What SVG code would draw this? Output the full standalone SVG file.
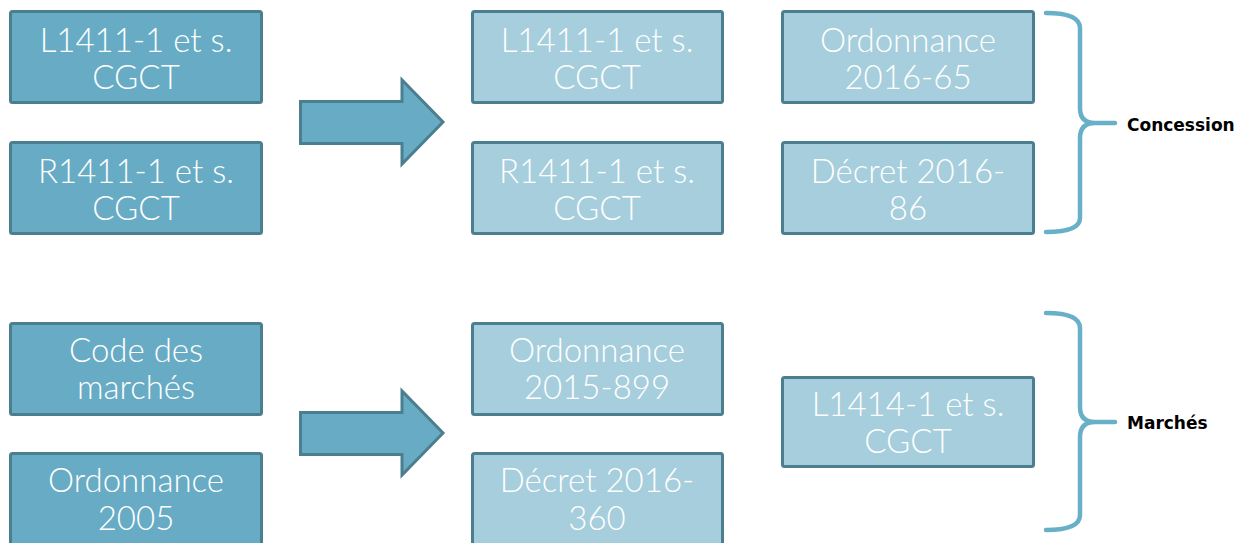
<svg xmlns="http://www.w3.org/2000/svg" width="1247" height="543" viewBox="0 0 1247 543">
<style>
.bd{fill:#67acc4;stroke:#4b7e8e;stroke-width:3}
.bl{fill:#a6cedc;stroke:#4b7e8e;stroke-width:3}
.t{font-family:"Lato","Liberation Sans",sans-serif;font-weight:300;font-size:33px;fill:#ffffff;text-anchor:middle}
.br{fill:none;stroke:#68b0c8;stroke-width:4.5;stroke-linecap:round;stroke-linejoin:round}
.lb{font-family:"DejaVu Sans","Liberation Sans",sans-serif;font-weight:bold;font-size:17px;fill:#000}
.ar{fill:#67acc4;stroke:#4b7e8e;stroke-width:3;stroke-linejoin:miter}
</style>
<rect width="1247" height="543" fill="#fff"/>
<g id="n1"><rect class="bd" x="10.5" y="11.5" width="251" height="91" rx="2"/><text class="t" x="136" y="52">L1411-1 et s.</text><text class="t" x="136" y="89">CGCT</text></g>
<g id="n2"><rect class="bd" x="10.5" y="142.5" width="251" height="91" rx="2"/><text class="t" x="136" y="183">R1411-1 et s.</text><text class="t" x="136" y="220">CGCT</text></g>
<g id="n3"><rect class="bd" x="10.5" y="323.5" width="251" height="91" rx="2"/><text class="t" x="136" y="362">Code des</text><text class="t" x="136" y="399">marchés</text></g>
<g id="n4"><rect class="bd" x="10.5" y="453.5" width="251" height="95" rx="2"/><text class="t" x="136" y="492">Ordonnance</text><text class="t" x="136" y="530">2005</text></g>
<g id="n5"><rect class="bl" x="472.5" y="11.5" width="250" height="91" rx="2"/><text class="t" x="597" y="52">L1411-1 et s.</text><text class="t" x="597" y="89">CGCT</text></g>
<g id="n6"><rect class="bl" x="472.5" y="142.5" width="250" height="91" rx="2"/><text class="t" x="597" y="183">R1411-1 et s.</text><text class="t" x="597" y="220">CGCT</text></g>
<g id="n7"><rect class="bl" x="472.5" y="323.5" width="250" height="91" rx="2"/><text class="t" x="597" y="362">Ordonnance</text><text class="t" x="597" y="399">2015-899</text></g>
<g id="n8"><rect class="bl" x="472.5" y="453.5" width="250" height="95" rx="2"/><text class="t" x="597" y="492">Décret 2016-</text><text class="t" x="597" y="530">360</text></g>
<g id="n9"><rect class="bl" x="782.5" y="11.5" width="251" height="91" rx="2"/><text class="t" x="908" y="52">Ordonnance</text><text class="t" x="908" y="89">2016-65</text></g>
<g id="n10"><rect class="bl" x="782.5" y="142.5" width="251" height="91" rx="2"/><text class="t" x="908" y="183">Décret 2016-</text><text class="t" x="908" y="220">86</text></g>
<g id="n11"><rect class="bl" x="782.5" y="377.5" width="251" height="89" rx="2"/><text class="t" x="908" y="416">L1414-1 et s.</text><text class="t" x="908" y="453">CGCT</text></g>
<g id="connectors">
<path class="ar" d="M300.5,101.5 H402 V80 L443,122 L402,164 V143.5 H300.5 Z"/>
<path class="ar" d="M300.5,412.5 H402 V391 L443,433 L402,475 V454.5 H300.5 Z"/>
<path class="br" d="M1046,13 Q1080,13 1080,28 V108 Q1080,123 1095,123 H1115 M1095,123 Q1080,123 1080,138 V218 Q1080,232 1046,232"/>
<path class="br" d="M1046,313 Q1080,313 1080,328 V407 Q1080,422 1095,422 H1115 M1095,422 Q1080,422 1080,437 V515 Q1080,530 1046,530"/>
</g>
<g id="labels">
<text class="lb" x="1127" y="131">Concession</text>
<text class="lb" x="1127" y="429">Marchés</text>
</g>
</svg>
